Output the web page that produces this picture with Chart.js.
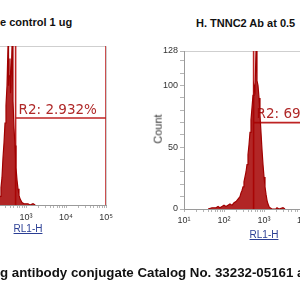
<!DOCTYPE html>
<html>
<head>
<meta charset="utf-8">
<script src="https://cdn.jsdelivr.net/npm/chart.js@4.4.1/dist/chart.umd.min.js"></script>
<style>
  body { margin: 0; background: #fff; }
  #page { position: relative; width: 300px; height: 300px; overflow: hidden; background: #fff; font-family: "Liberation Sans", Arial, sans-serif; }
  canvas { position: absolute; }
  .title { position: absolute; font-weight: bold; font-size: 11px; color: #111; white-space: nowrap; }
  .axisname { position: absolute; font-size: 10px; color: #2b3f95; text-decoration: underline; white-space: nowrap; transform: translateX(-50%); }
  .count { position: absolute; font-size: 11px; color: #333; transform: rotate(-90deg); transform-origin: center; white-space: nowrap; }
  #caption { position: absolute; left: 0; top: 265px; font-weight: bold; font-size: 13.3px; color: #111; white-space: nowrap; }
</style>
</head>
<body>
<div id="page">
  <div class="title" style="left:0;top:16px">e control 1 ug</div>
  <div class="title" style="left:196px;top:17px">H. TNNC2 Ab at 0.5</div>
  <canvas id="ctrl" width="250" height="240" style="left:-110px;top:0"></canvas>
  <canvas id="stain" width="250" height="240" style="left:130px;top:0"></canvas>
  <div class="axisname" style="left:28px;top:223px">RL1-H</div>
  <div class="axisname" style="left:264px;top:229px">RL1-H</div>
  <div class="count" style="left:143px;top:123px">Count</div>
  <div id="caption">g antibody conjugate Catalog No. 33232-05161 a</div>
</div>
<script>
// RL1-H histogram, two panels: control vs stained, same R2 gate

const decadeTicks = [10, 100, 1000, 10000, 100000];
const decadeLabels = ["10\u00b9", "10\u00b2", "10\u00b3", "10\u2074", "10\u2075"];
const countTicks = [0, 50, 100, 128];

// control (left panel)
const controlRL1 = [112, 126, 141, 155, 168, 184, 200, 212, 224, 237, 251, 266, 282, 299, 316, 335, 355, 366, 376, 398, 410, 422, 447, 473, 501, 531, 562, 596, 631, 668, 708, 794, 891, 1000, 1122, 1259, 1496, 1700];
const controlCount = [0, 1, 1, 2, 3, 3, 4, 5, 7, 14, 22, 38, 50, 66, 80, 96, 128, 96, 104, 118, 90, 96, 128, 84, 62, 48, 30, 20, 13, 8, 5, 2, 1, 1, 1, 0, 1, 0];

// stained (right panel)
const stainedRL1 = [40, 50, 63, 71, 79, 89, 100, 112, 126, 141, 158, 178, 200, 224, 251, 266, 282, 299, 316, 335, 355, 376, 398, 422, 447, 473, 501, 531, 562, 596, 631, 668, 708, 750, 794, 841, 891, 944, 1000, 1059, 1122, 1189, 1259, 1334, 1413, 1585, 1995, 2113, 2371, 2985, 3350];
const stainedCount = [0, 1, 1, 2, 1, 2, 3, 2, 3, 4, 3, 5, 6, 8, 10, 13, 15, 18, 22, 26, 30, 36, 44, 52, 62, 72, 82, 92, 100, 96, 128, 104, 100, 90, 76, 62, 48, 36, 26, 18, 12, 7, 4, 2, 1, 0, 0, 1, 0, 1, 0];

const gateStart = 550;
const gateEnd = 100000;
const gateLevel = 70;
const controlGateText = "R2: 2.932%";
const stainedGateText = "R2: 69.";

const HIST = "rgb(160,0,0)";
const GATE = "rgb(190,35,35)";

const gateLabel = {
  id: "gateLabel",
  beforeDatasetsDraw(chart, args, opts) {
    const { ctx, scales } = chart;
    const x = scales.x.getPixelForValue(gateStart) + 3;
    const y = scales.y.getPixelForValue(gateLevel) - 8;
    ctx.save();
    ctx.font = "13.5px 'DejaVu Sans'";
    ctx.fillStyle = "rgb(175,40,40)";
    ctx.textBaseline = "middle";
    ctx.fillText(opts.text, x, y);
    ctx.restore();
  }
};

const frame = {
  id: "frame",
  beforeDraw(chart) {
    const { ctx, chartArea: a } = chart;
    ctx.save();
    ctx.strokeStyle = "#cfcfcf";
    ctx.lineWidth = 1;
    ctx.beginPath();
    ctx.moveTo(a.left, a.top + 0.5);
    ctx.lineTo(a.right + 0.5, a.top + 0.5);
    ctx.lineTo(a.right + 0.5, a.bottom);
    ctx.stroke();
    ctx.restore();
  }
};

function pts(xs, ys) { return xs.map((x, i) => ({ x, y: ys[i] })); }

function makeHist(id, xs, ys, label, yWidth, xHeight, padTop, padRight, tickPad) {
  const gateLines = [
    [{ x: gateStart, y: 0 }, { x: gateStart, y: 128 }],
    [{ x: gateStart, y: gateLevel }, { x: gateEnd, y: gateLevel }],
    [{ x: gateEnd, y: 0 }, { x: gateEnd, y: 128 }]
  ];
  return new Chart(document.getElementById(id), {
    type: "line",
    data: {
      datasets: [
        { data: pts(xs, ys), borderColor: HIST, backgroundColor: "rgba(165,0,0,0.85)", fill: "origin", borderWidth: 1.2, pointRadius: 0, tension: 0 },
        ...gateLines.map(d => ({ data: d, borderColor: GATE, borderWidth: 1.6, pointRadius: 0, fill: false }))
      ]
    },
    options: {
      responsive: false,
      animation: false,
      events: [],
      layout: { padding: { top: padTop, right: padRight, left: 0, bottom: 0 } },
      plugins: { legend: { display: false }, tooltip: { enabled: false }, gateLabel: { text: label } },
      scales: {
        x: {
          type: "logarithmic",
          min: decadeTicks[0],
          max: decadeTicks[decadeTicks.length - 1],
          afterBuildTicks: s => {
            const t = [];
            decadeTicks.forEach((d, i) => {
              for (let k = 1; k < 10; k++) {
                if (i === decadeTicks.length - 1 && k > 1) break;
                t.push({ value: k * d });
              }
            });
            s.ticks = t;
          },
          afterFit: s => { s.height = xHeight; },
          border: { color: "#9a9a9a" },
          grid: { drawOnChartArea: false, tickLength: 3, color: "#b5b5b5" },
          ticks: {
            autoSkip: false, maxRotation: 0, padding: tickPad,
            color: "#333", font: { family: "'Liberation Sans Narrow', 'Liberation Sans'", size: 9 },
            callback: v => { const i = decadeTicks.indexOf(v); return i >= 0 ? decadeLabels[i] : ""; }
          }
        },
        y: {
          min: 0,
          max: 128,
          afterBuildTicks: s => {
            const t = [];
            for (let v = 0; v <= 120; v += 10) t.push({ value: v });
            t.push({ value: 128 });
            s.ticks = t;
          },
          afterFit: s => { s.width = yWidth; },
          border: { color: "#9a9a9a" },
          grid: { drawOnChartArea: false, tickLength: 4, color: "#b5b5b5" },
          ticks: {
            autoSkip: false, padding: 2,
            color: "#333", font: { family: "'Liberation Sans Narrow', 'Liberation Sans'", size: 9 },
            callback: v => countTicks.includes(v) ? String(v) : ""
          }
        }
      }
    },
    plugins: [frame, gateLabel]
  });
}

makeHist("ctrl", controlRL1, controlCount, controlGateText, 56, 35, 46, 34, 4);
makeHist("stain", stainedRL1, stainedCount, stainedGateText, 54, 31, 51, 36, 3);
</script>
</body>
</html>
